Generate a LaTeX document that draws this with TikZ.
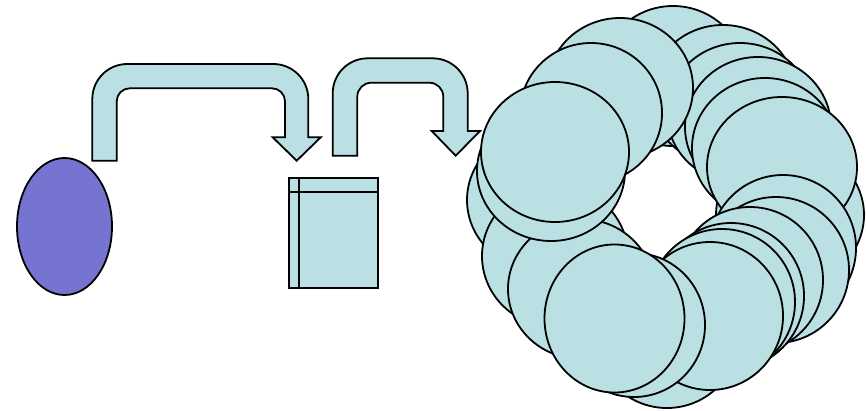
\documentclass[tikz,border=0pt]{standalone}
\definecolor{ringblue}{RGB}{187,224,227}
\definecolor{ovalpurple}{RGB}{117,117,209}
\tikzset{
  outl/.style={draw=black, line width=1.8pt, line join=miter},
  blockarrow/.style={outl, fill=ringblue},
  disk/.style={outl, fill=ringblue},
}
\begin{document}
\begin{tikzpicture}[x=1pt,y=-1pt]
\useasboundingbox (0,0) rectangle (866,410);
% purple oval
\draw[outl, fill=ovalpurple] (64.5,226.5) ellipse [x radius=47.5pt, y radius=68.5pt];
% first u-turn arrow
\draw[blockarrow] (92.3,160.7) -- (92.3,99) arc[start angle=180,end angle=90,radius=35pt]
  -- (273.3,64) arc[start angle=90,end angle=0,radius=35pt]
  -- (308.3,137.3) -- (320.7,137.3) -- (296.7,160.7) -- (272.7,137.3) -- (285,137.3)
  -- (285,101.3) arc[start angle=0,end angle=90,radius=13pt]
  -- (129.7,88.3) arc[start angle=90,end angle=180,radius=13pt]
  -- (116.7,160.7) -- cycle;
% second u-turn arrow
\draw[blockarrow] (332.7,155.7) -- (332.7,93.3) arc[start angle=180,end angle=90,radius=35pt]
  -- (432.7,58.3) arc[start angle=90,end angle=0,radius=35pt]
  -- (467.7,131) -- (480,131) -- (455.7,155.7) -- (431.7,131) -- (443.3,131)
  -- (443.3,96.7) arc[start angle=0,end angle=90,radius=14pt]
  -- (371.3,82.7) arc[start angle=90,end angle=180,radius=14pt]
  -- (357.3,155.7) -- cycle;
% box
\draw[outl, fill=ringblue] (288.7,177.7) rectangle (377.7,288.3);
\draw[outl] (299.3,177.7) -- (299.3,288.3);
\draw[outl] (288.7,191.7) -- (377.7,191.7);
% ring of disks, back to front
\foreach \cx/\cy/\rx/\ry in {
  673/76/72/70, 790/215/74/70, 723/95/73/70, 740/113/73/70, 758/127/73/70,
  765/148/73/70, 782/167/75/70, 620/88/73/70, 591/113/71/70,
  540/200/73/70, 555/256/73/71, 581/289/73/70, 551/171/74/70, 555/152/74/70,
  667/336/72/72, 783/248/73/73, 776/270/73/73, 750/280/73/73, 731/296/73/73,
  722/302/73/73, 710/316/73/74, 634/325/71/72, 614.5/318.5/70/74}
  \draw[disk] (\cx,\cy) ellipse [x radius=\rx pt, y radius=\ry pt];
\end{tikzpicture}
\end{document}
